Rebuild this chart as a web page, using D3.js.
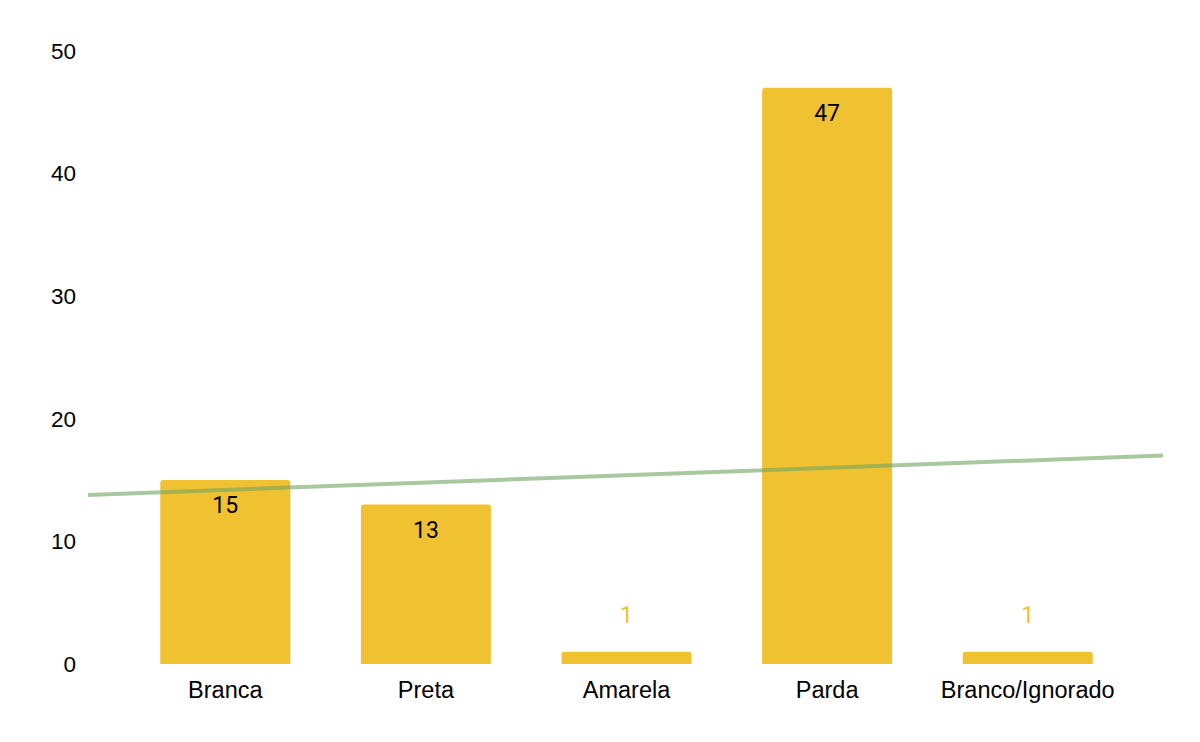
<!DOCTYPE html>
<html>
<head>
<meta charset="utf-8">
<script src="https://cdn.jsdelivr.net/npm/d3@7"></script>
<style>
  body { margin: 0; background: #fff; }
  text { font-family: "Liberation Sans", Arial, sans-serif; }
</style>
</head>
<body>
<div id="chart"></div>
<script>
// data ///////////////////////////
var categories = ['Branca', 'Preta', 'Amarela', 'Parda', 'Branco/Ignorado'];
var values = [15, 13, 1, 47, 1];
var yTicks = [0, 10, 20, 30, 40, 50];

// setup ///////////////////////////
var width = 1200, height = 742;
var plotLeft = 125, plotRight = 1128, plotTop = 51, plotBottom = 664;

var svg = d3.select('#chart')
    .append('svg')
    .attr('width', width)
    .attr('height', height);

var x = d3.scaleBand()
    .domain(categories)
    .range([plotLeft, plotRight])
    .paddingInner(0.352)
    .paddingOuter(0.176);

var y = d3.scaleLinear()
    .domain([0, 50])
    .range([plotBottom, plotTop]);

// y axis labels (no line, no gridlines)
var yAxis = svg.append('g')
    .attr('transform', 'translate(76,0)')
    .call(d3.axisLeft(y).tickValues(yTicks).tickSize(0).tickPadding(0));
yAxis.select('.domain').remove();
yAxis.selectAll('text')
    .style('font-size', '22.5px')
    .style('font-family', '"Liberation Sans", Arial, sans-serif')
    .attr('fill', '#000');

// x axis labels
var xAxis = svg.append('g')
    .attr('transform', 'translate(0,' + plotBottom + ')')
    .call(d3.axisBottom(x).tickSize(0).tickPadding(17));
xAxis.select('.domain').remove();
xAxis.selectAll('text')
    .style('font-size', '23.5px')
    .style('font-family', '"Liberation Sans", Arial, sans-serif')
    .attr('fill', '#000');

// bars with rounded top corners
function barPath(d, i) {
    var x0 = x(categories[i]), w = x.bandwidth();
    var y0 = y(d), y1 = y(0);
    var r = Math.min(3, (y1 - y0));
    return 'M' + x0 + ',' + y1 +
        'V' + (y0 + r) +
        'Q' + x0 + ',' + y0 + ' ' + (x0 + r) + ',' + y0 +
        'H' + (x0 + w - r) +
        'Q' + (x0 + w) + ',' + y0 + ' ' + (x0 + w) + ',' + (y0 + r) +
        'V' + y1 + 'Z';
}

svg.append('g').selectAll('path')
    .data(values)
    .enter()
    .append('path')
    .attr('d', barPath)
    .attr('fill', '#f0c232');

// value labels: inside when bar is tall, above otherwise
svg.append('g').selectAll('text')
    .data(values)
    .enter()
    .append('text')
    .attr('x', function(d, i) { return x(categories[i]) + x.bandwidth() / 2; })
    .attr('y', function(d) {
        return (y(0) - y(d) > 40) ? y(d) + 33 : y(d) - 29;
    })
    .attr('text-anchor', 'middle')
    .style('font-family', 'Roboto, sans-serif')
    .style('font-size', '23px')
    .attr('fill', function(d) { return (y(0) - y(d) > 40) ? '#000' : '#f0c232'; })
    .text(function(d) { return d; });

// linear trend line over category index
var n = values.length;
var mx = d3.mean(d3.range(n)), my = d3.mean(values);
var slope = d3.sum(values, function(v, i) { return (i - mx) * (v - my); }) /
            d3.sum(d3.range(n), function(i) { return (i - mx) * (i - mx); });
var icpt = my - slope * mx;

var xIdx = d3.scaleLinear()
    .domain([0, n - 1])
    .range([x(categories[0]) + x.bandwidth() / 2, x(categories[n - 1]) + x.bandwidth() / 2]);
var lineX = [88, 1163];

svg.append('line')
    .attr('x1', lineX[0])
    .attr('x2', lineX[1])
    .attr('y1', y(icpt + slope * xIdx.invert(lineX[0])))
    .attr('y2', y(icpt + slope * xIdx.invert(lineX[1])))
    .attr('stroke', '#71a361')
    .attr('stroke-opacity', 0.6)
    .attr('stroke-width', 4);
</script>
</body>
</html>
